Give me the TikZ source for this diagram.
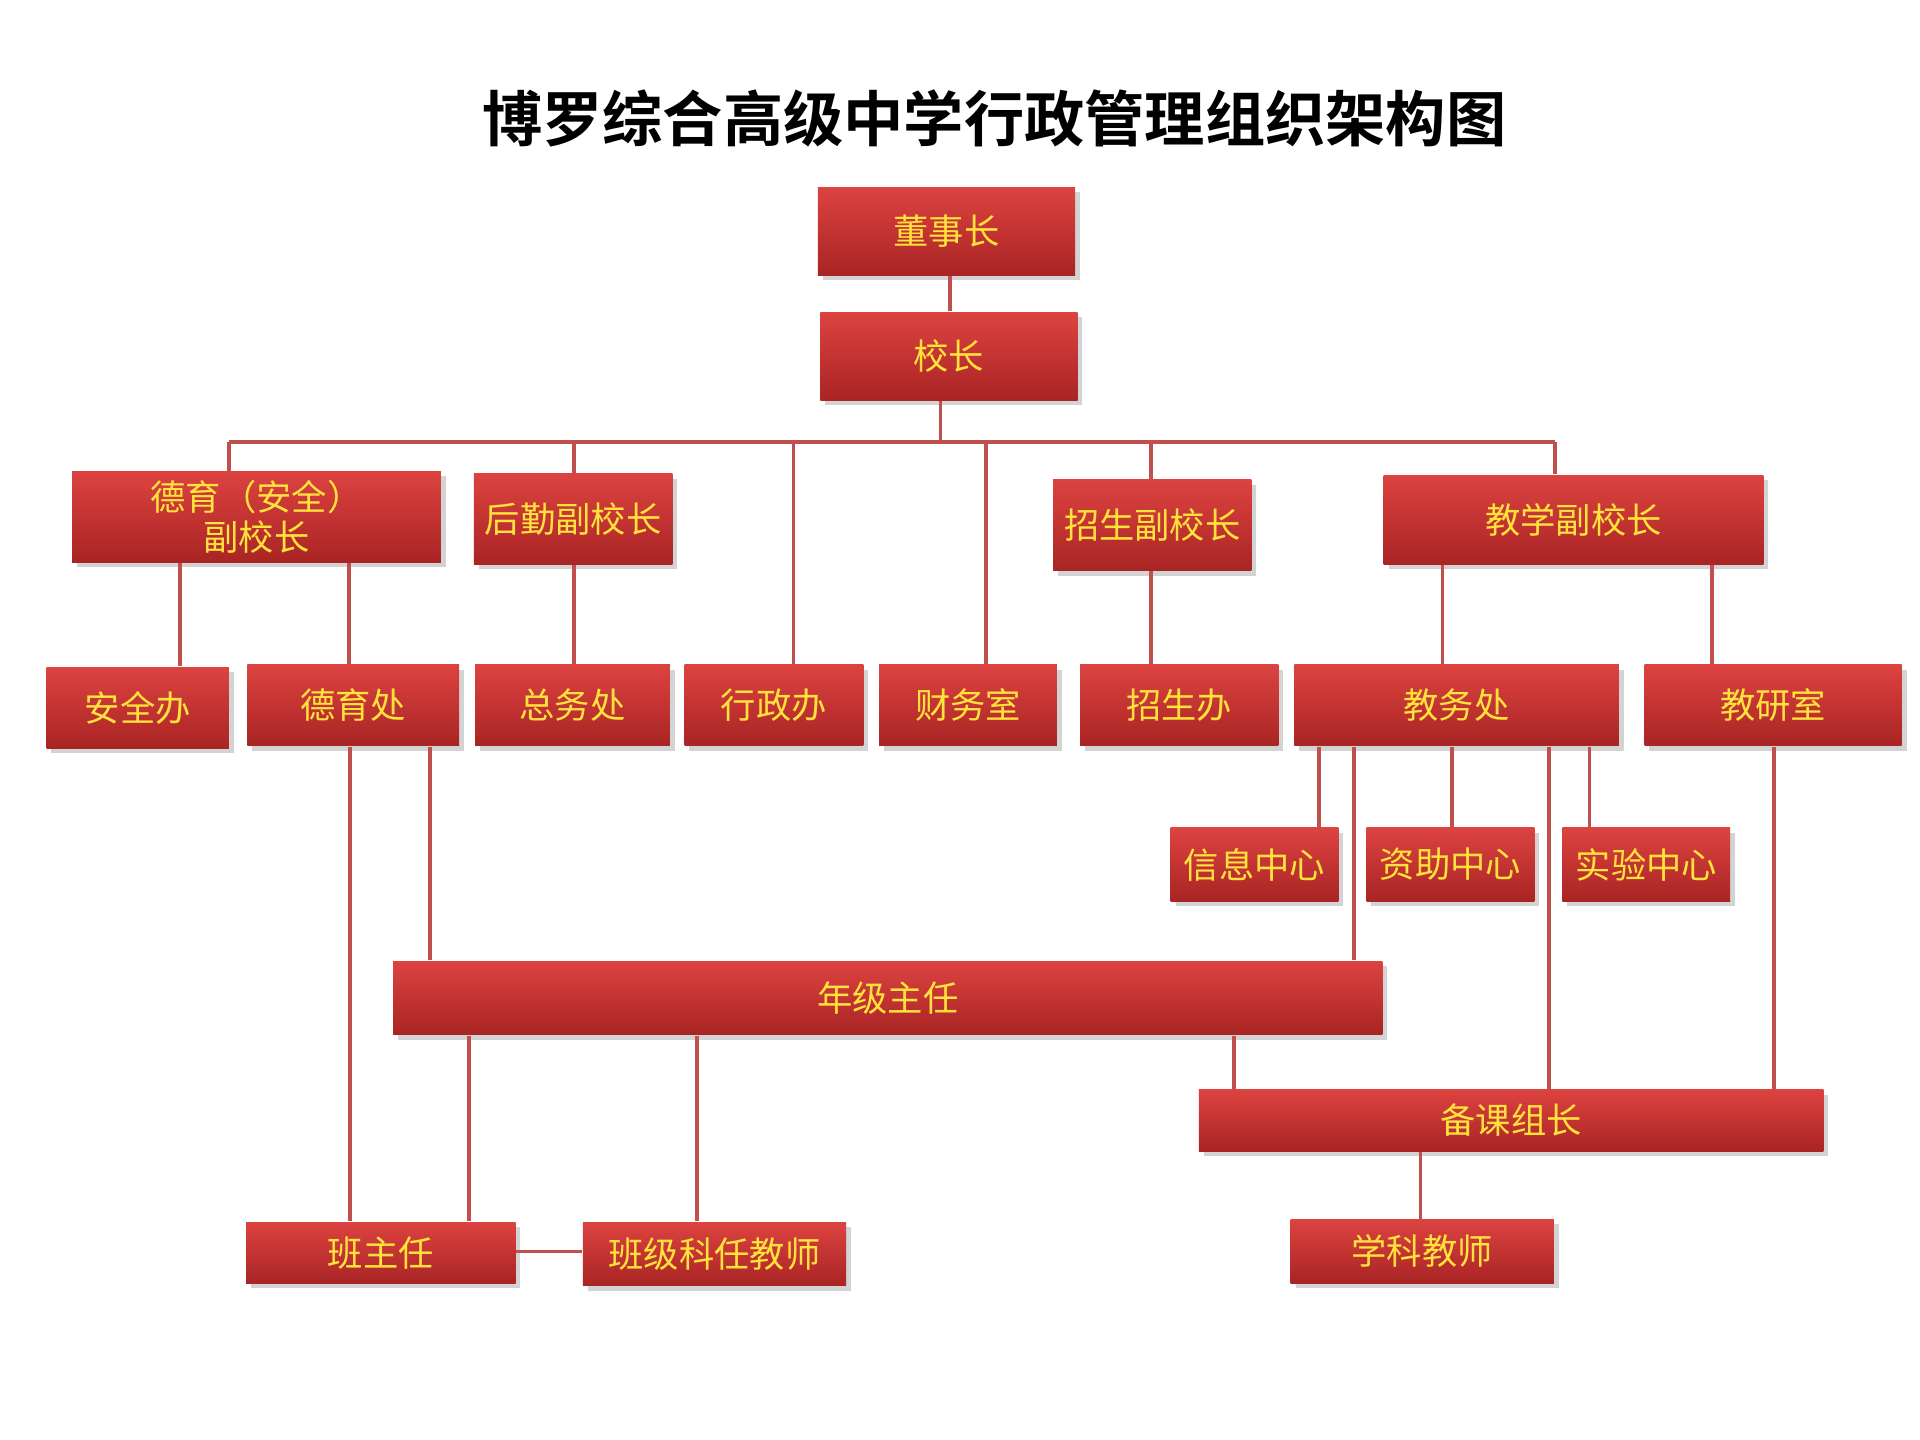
\documentclass[tikz,border=0pt]{standalone}
\usepackage{fontspec}
\newfontfamily\cjk{Noto Sans CJK SC}
\newfontfamily\cjkb{Noto Sans CJK SC Bold}
\usetikzlibrary{shadows}
\definecolor{rtop}{HTML}{DC4340}
\definecolor{rbot}{HTML}{A92424}
\definecolor{ltxt}{HTML}{FFE23C}
\definecolor{conn}{HTML}{C0504D}
\tikzset{
 box/.style={draw=none,top color=rtop,bottom color=rbot,text=ltxt,font=\cjk\fontsize{8.2pt}{9.4pt}\selectfont,
   align=center,inner sep=0pt,drop shadow={shadow xshift=0.4mm,shadow yshift=-0.4mm,opacity=0.35}},
 cn/.style={draw=conn,line width=0.85pt}
}
\newcommand\bx[6]{\node[box,minimum width={(#4-#2)/100*1cm},minimum height={(#5-#3)/100*1cm}]
  (#1) at ({(#2+#4)/200},{-(#3+#5)/200}) {#6};}
\begin{document}
\begin{tikzpicture}
\useasboundingbox (0,0) rectangle (15.68,-11.76);
\node[font=\cjkb\fontsize{14pt}{16pt}\selectfont] (title) at (8.12,-0.97) {博罗综合高级中学行政管理组织架构图};
\coordinate (bus) at (0,-3.61);
% connectors first
\bx{dsz}{668}{153}{878}{225}{董事长}
\bx{xz}{670}{255}{880}{327}{校长}
\bx{dy}{59}{385}{360}{459}{德育（安全）\\副校长}
\bx{hq}{387}{387}{549}{461}{后勤副校长}
\bx{zs}{860}{392}{1022}{466}{招生副校长}
\bx{jx}{1130}{388}{1440}{461}{教学副校长}
\bx{aqb}{38}{545}{187}{611}{安全办}
\bx{dyc}{202}{543}{375}{609}{德育处}
\bx{zwc}{388}{543}{547}{609}{总务处}
\bx{xzb}{559}{543}{705}{609}{行政办}
\bx{cws}{718}{543}{863}{609}{财务室}
\bx{zsb}{882}{543}{1044}{609}{招生办}
\bx{jwc}{1057}{543}{1322}{609}{教务处}
\bx{jys}{1343}{543}{1553}{609}{教研室}
\bx{xx}{956}{676}{1093}{736}{信息中心}
\bx{zz}{1116}{676}{1253}{736}{资助中心}
\bx{sy}{1276}{676}{1413}{736}{实验中心}
\bx{nj}{321}{785}{1129}{845}{年级主任}
\bx{bk}{979}{890}{1489}{940}{备课组长}
\bx{bzr}{201}{998}{421}{1048}{班主任}
\bx{kr}{476}{998}{691}{1050}{班级科任教师}
\bx{xk}{1054}{996}{1269}{1048}{学科教师}
\begin{scope}[on background layer/.style={}]
\draw[cn] (7.76,0 |- dsz.south) -- (7.76,0 |- xz.north);
\draw[cn] (7.68,0 |- xz.south) -- (7.68,0 |- bus);
\draw[cn] (1.87,0 |- bus) -- (12.70,0 |- bus);
\draw[cn] (1.87,0 |- bus) -- (1.87,0 |- dy.north);
\draw[cn] (4.69,0 |- bus) -- (4.69,0 |- hq.north);
\draw[cn] (6.48,0 |- bus) -- (6.48,0 |- xzb.north);
\draw[cn] (8.05,0 |- bus) -- (8.05,0 |- cws.north);
\draw[cn] (9.40,0 |- bus) -- (9.40,0 |- zs.north);
\draw[cn] (12.70,0 |- bus) -- (12.70,0 |- jx.north);
\draw[cn] (1.47,0 |- dy.south) -- (1.47,0 |- aqb.north);
\draw[cn] (2.85,0 |- dy.south) -- (2.85,0 |- dyc.north);
\draw[cn] (4.69,0 |- hq.south) -- (4.69,0 |- zwc.north);
\draw[cn] (9.40,0 |- zs.south) -- (9.40,0 |- zsb.north);
\draw[cn] (11.78,0 |- jx.south) -- (11.78,0 |- jwc.north);
\draw[cn] (13.98,0 |- jx.south) -- (13.98,0 |- jys.north);
\draw[cn] (10.77,0 |- jwc.south) -- (10.77,0 |- xx.north);
\draw[cn] (11.86,0 |- jwc.south) -- (11.86,0 |- zz.north);
\draw[cn] (12.98,0 |- jwc.south) -- (12.98,0 |- sy.north);
\draw[cn] (11.06,0 |- jwc.south) -- (11.06,0 |- nj.north);
\draw[cn] (12.65,0 |- jwc.south) -- (12.65,0 |- bk.north);
\draw[cn] (14.49,0 |- jys.south) -- (14.49,0 |- bk.north);
\draw[cn] (3.51,0 |- dyc.south) -- (3.51,0 |- nj.north);
\draw[cn] (2.86,0 |- dyc.south) -- (2.86,0 |- bzr.north);
\draw[cn] (3.83,0 |- nj.south) -- (3.83,0 |- bzr.north);
\draw[cn] (5.69,0 |- nj.south) -- (5.69,0 |- kr.north);
\draw[cn] (10.08,0 |- nj.south) -- (10.08,0 |- bk.north);
\draw[cn] (11.60,0 |- bk.south) -- (11.60,0 |- xk.north);
\draw[cn] (bzr.east |- 0,-10.22) -- (kr.west |- 0,-10.22);
\end{scope}
\end{tikzpicture}
\end{document}
